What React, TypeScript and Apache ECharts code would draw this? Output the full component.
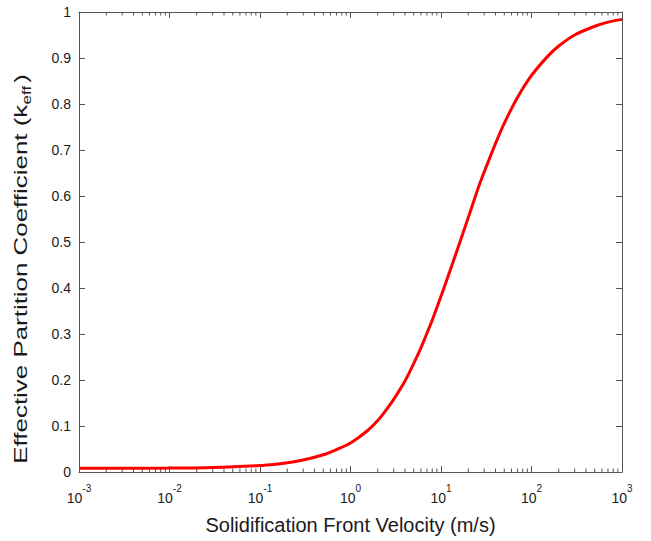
import React, { useEffect, useRef } from 'react';
import * as echarts from 'echarts';

const velocities = [0.001, 0.003, 0.01, 0.03, 0.1, 0.15, 0.2, 0.3, 0.5, 0.7, 1, 1.5, 2, 2.5, 3, 4, 5, 6, 7, 8, 10, 12, 15, 20, 25, 30, 40, 50, 70, 100, 150, 200, 300, 500, 700, 1000];
const kEff = [0.008, 0.0082, 0.0086, 0.0099, 0.0142, 0.0171, 0.0200, 0.0259, 0.0374, 0.0487, 0.063, 0.088, 0.112, 0.136, 0.158, 0.198, 0.236, 0.270, 0.302, 0.330, 0.382, 0.426, 0.481, 0.553, 0.610, 0.652, 0.714, 0.758, 0.814, 0.862, 0.903, 0.926, 0.950, 0.969, 0.978, 0.984];
const xTickExponents = ['-3', '-2', '-1', '0', '1', '2', '3'];
const yTickLabels = ['0', '0.1', '0.2', '0.3', '0.4', '0.5', '0.6', '0.7', '0.8', '0.9', '1'];
const minorMultipliers = [2, 3, 4, 5, 6, 7, 8, 9];
const decadeExponents = [-3, -2, -1, 0, 1, 2];
const xTitle = 'Solidification Front Velocity (m/s)';
const yTitleMain = 'Effective Partition Coefficient (k';
const yTitleSub = 'eff';
const yTitleEnd = ')';

const AXIS_COLOR = '#555555';
const TEXT_COLOR = '#1a1a1a';
const FONT = '"Liberation Sans", Arial, sans-serif';

export default function App() {
  const ref = useRef<HTMLDivElement>(null);
  useEffect(() => {
    if (!ref.current) return;
    const chart = echarts.init(ref.current, undefined, { renderer: 'svg' });
    const lineData = velocities.map((v, i) => [v, kEff[i]]);
    const minorData: number[][] = [];
    decadeExponents.forEach((e) => {
      minorMultipliers.forEach((m) => minorData.push([m * Math.pow(10, e), 0]));
    });
    const xLabel = (val: number) => {
      const e = Math.round(Math.log10(val));
      const idx = e + 3;
      return `{b|10}{s|${xTickExponents[idx] ?? e}}`;
    };
    const yLabel = (val: number) => {
      const idx = Math.round(val * 10);
      return yTickLabels[idx] ?? String(val);
    };
    const commonLine = { show: true, onZero: false, lineStyle: { color: AXIS_COLOR, width: 1 } };
    const majorTick = { show: true, inside: true, length: 6, lineStyle: { color: AXIS_COLOR } };
    chart.setOption({
      animation: false,
      backgroundColor: '#ffffff',
      grid: { left: 79, right: 29, top: 12, bottom: 69, containLabel: false },
      xAxis: [
        {
          type: 'log',
          logBase: 10,
          min: 0.001,
          max: 1000,
          splitNumber: 6,
          position: 'bottom',
          axisLine: commonLine,
          axisTick: majorTick,
          splitLine: { show: false },
          axisLabel: {
            margin: 11,
            formatter: xLabel,
            rich: {
              b: { fontFamily: FONT, fontSize: 14, color: TEXT_COLOR, lineHeight: 22, verticalAlign: 'bottom' },
              s: { fontFamily: FONT, fontSize: 10, color: TEXT_COLOR, lineHeight: 22, verticalAlign: 'top' },
            },
          },
          name: xTitle,
          nameLocation: 'middle',
          nameGap: 43,
          nameTextStyle: { fontFamily: FONT, fontSize: 20, color: TEXT_COLOR },
        },
        {
          type: 'log',
          logBase: 10,
          min: 0.001,
          max: 1000,
          splitNumber: 6,
          position: 'top',
          axisLine: commonLine,
          axisTick: majorTick,
          splitLine: { show: false },
          axisLabel: { show: false },
        },
      ],
      yAxis: [
        {
          type: 'value',
          min: 0,
          max: 1,
          interval: 0.1,
          position: 'left',
          axisLine: commonLine,
          axisTick: majorTick,
          splitLine: { show: false },
          axisLabel: { margin: 8, formatter: yLabel, fontFamily: FONT, fontSize: 14, color: TEXT_COLOR },
        },
        {
          type: 'value',
          min: 0,
          max: 1,
          interval: 0.1,
          position: 'right',
          axisLine: commonLine,
          axisTick: majorTick,
          splitLine: { show: false },
          axisLabel: { show: false },
        },
      ],
      graphic: [
        {
          type: 'text',
          x: 21,
          y: 269,
          rotation: Math.PI / 2,
          scaleX: 1.44,
          silent: true,
          style: {
            text: `{a|${yTitleMain}}{b|${yTitleSub}}{c|${yTitleEnd}}`,
            align: 'center',
            verticalAlign: 'middle',
            rich: {
              a: { fontFamily: FONT, fontSize: 18, fill: TEXT_COLOR, lineHeight: 24, verticalAlign: 'middle' },
              b: { fontFamily: FONT, fontSize: 12, fill: TEXT_COLOR, lineHeight: 24, verticalAlign: 'bottom' },
              c: { fontFamily: FONT, fontSize: 18, fill: TEXT_COLOR, lineHeight: 24, verticalAlign: 'middle', padding: [0, 0, 0, 2] },
            },
          },
        },
      ],
      series: [
        {
          type: 'custom',
          xAxisIndex: 0,
          yAxisIndex: 0,
          silent: true,
          data: minorData,
          renderItem: (params: any, api: any) => {
            const v = api.value(0);
            const b = api.coord([v, 0]);
            const t = api.coord([v, 1]);
            return {
              type: 'group',
              children: [
                { type: 'line', shape: { x1: b[0], y1: b[1], x2: b[0], y2: b[1] - 3.5 }, style: { stroke: AXIS_COLOR, lineWidth: 1 } },
                { type: 'line', shape: { x1: t[0], y1: t[1], x2: t[0], y2: t[1] + 3.5 }, style: { stroke: AXIS_COLOR, lineWidth: 1 } },
              ],
            };
          },
        },
        {
          type: 'line',
          xAxisIndex: 0,
          yAxisIndex: 0,
          data: lineData,
          smooth: 0.3,
          showSymbol: false,
          symbol: 'none',
          lineStyle: { color: '#ff0000', width: 3 },
          itemStyle: { color: '#ff0000' },
          z: 3,
        },
      ],
    });
    return () => chart.dispose();
  }, []);
  return <div ref={ref} style={{ position: 'fixed', left: 0, top: 0, width: 651, height: 541 }} />;
}
